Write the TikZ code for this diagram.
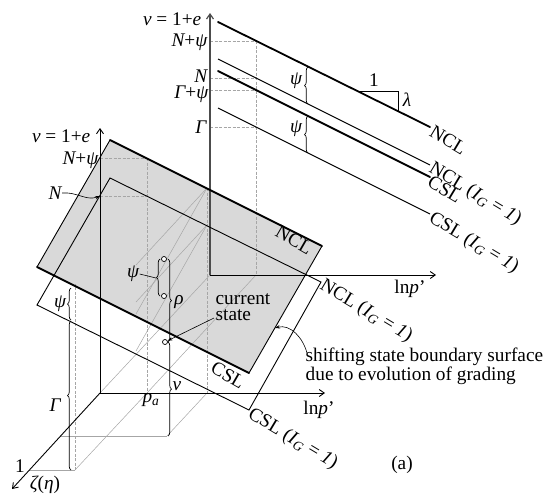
\documentclass[tikz,border=0pt]{standalone}
\usepackage{fontspec}
\setmainfont{Liberation Serif}
\usetikzlibrary{arrows.meta,decorations.pathreplacing}
\begin{document}
\begin{tikzpicture}[x=1pt,y=-1pt,
  thickln/.style={line width=1.8pt,line cap=round},
  thinln/.style={line width=0.9pt},
  axis/.style={line width=0.9pt,-{Straight Barb[length=5pt,width=7pt]}},
  guide/.style={gray!70,line width=0.5pt},
  guided/.style={gray!70,line width=0.5pt,dash pattern=on 3pt off 1.5pt},
  lbl/.style={font=\fontsize{19.3}{19}\selectfont,inner sep=0.5pt},
  brc/.style={decorate,decoration={brace,amplitude=3.5pt},line width=0.7pt},
  ptc/.style={circle,draw,fill=white,line width=0.7pt,inner sep=0pt,minimum size=5pt},
  arr/.style={line width=0.6pt,-{Stealth[length=5pt,width=3.5pt]}}
]
\useasboundingbox (0,0) rectangle (544,496);
% ---------- key points ----------
\coordinate (bo) at (210,275);   % back origin
\coordinate (fo) at (100,393);   % front origin
\coordinate (TL1) at (110,140); \coordinate (TR1) at (322,246);
\coordinate (BR1) at (249,373); \coordinate (BL1) at (37,267);
\coordinate (TL2) at (110,178); \coordinate (TR2) at (321,282);
\coordinate (BR2) at (249,410); \coordinate (BL2) at (37,305);
% shaded surface
\fill[gray!30] (TL1) -- (TR1) -- (BR1) -- (BL1) -- cycle;
% ---------- guide lines ----------
\draw[guided] (256,41) -- (256,275);
\foreach \yy in {41,78,90,127} \draw[guided] (210,\yy) -- (256,\yy);
\draw[guided] (147,158) -- (147,393);
\draw[guided] (100,158) -- (147,158);
\draw[guided] (100,196) -- (147,196);
\draw[guide] (fo) -- (bo);
\draw[guide] (75,470) -- (147,393) -- (256,275);
\draw[guide] (29,470) -- (75,470);
\draw[guided] (75,470) -- (75,284);
\draw[guided] (207,188) -- (207,393);
\draw[guide] (207,393) -- (167,436);
\draw[guide] (60,436) -- (167,436);
\draw[guide] (207,188) -- (136,265);
\draw[guide] (207,225) -- (136,302);
\draw[guide] (207,188) -- (136,314);
\draw[guide] (207,225) -- (136,351);
% ---------- back plane ----------
\draw[line width=1.2pt,gray!60!black,-{Straight Barb[length=5pt,width=7pt]}] (bo) -- (210,13) coordinate (bvt);
\draw[axis] (bo) -- (436,275) coordinate (bht);
\draw[thickln] (218,22) coordinate (bn1) -- (430,127) coordinate (bn2);
\draw[thinln] (218,59) coordinate (bni1) -- (430,165) coordinate (bni2);
\draw[thickln] (218,71) coordinate (bc1) -- (430,177) coordinate (bc2);
\draw[thinln] (218,108) coordinate (bci1) -- (430,214) coordinate (bci2);
% slope triangle
\draw[thinln] (357,91) -- (398,91) -- (398,112);
\node[lbl] (one) at (374,80) {1};
\node[lbl] (lam) at (407,100) {\itshape λ};
% psi braces back
\draw[brc] (308,104) -- (308,67);
\draw[brc] (308,153) -- (308,116);
\node[lbl] (bpsi1) at (296,81) {\itshape ψ};
\node[lbl] (bpsi2) at (296,129) {\itshape ψ};
% back labels
\node[lbl,anchor=east] (bv) at (202,19) {\itshape v\upshape\ = 1+\itshape e};
\node[lbl,anchor=east] (bNp) at (208,42) {\itshape N\upshape+\itshape ψ};
\node[lbl,anchor=east] (bN) at (208,76) {\itshape N};
\node[lbl,anchor=east] (bGp) at (209,94) {\itshape Γ\upshape+\itshape ψ};
\node[lbl,anchor=east] (bG) at (207,127) {\itshape Γ};
\node[lbl,anchor=west,rotate=-31] (lNCL) at (431,130) {NCL};
\node[lbl,anchor=west,rotate=-31] (lNCLi) at (430,167) {NCL (\textit{I}\textsubscript{\textit{G}} = \textit{1})};
\node[lbl,anchor=west,rotate=-31] (lCSL) at (429,180) {CSL};
\node[lbl,anchor=west,rotate=-31] (lCSLi) at (430,217) {CSL (\textit{I}\textsubscript{\textit{G}} = \textit{1})};
\node[lbl] (blnp) at (410,289) {ln\textit{p}'};
% ---------- front surfaces ----------
\draw[thinln] (TL2) -- (TR2) -- (BR2) -- (BL2) -- cycle;
\draw[thinln] (BL1) -- (TL1);
\draw[thinln] (TR1) -- (BR1);
\draw[thickln] (TL1) -- (TR1);
\draw[thickln] (BL1) -- (BR1);
% front axes
\draw[axis] (fo) -- (100,128) coordinate (fvt);
\draw[axis] (fo) -- (325,393) coordinate (fht);
\draw[axis] (fo) -- (12,489) coordinate (zt);
% front labels
\node[lbl,anchor=east] (fv) at (91,136) {\itshape v\upshape\ = 1+\itshape e};
\node[lbl,anchor=east] (fNp) at (99,160) {\itshape N\upshape+\itshape ψ};
\node[lbl] (fN) at (55,193) {\itshape N};
\coordinate (fNpt) at (100,196);
\draw[arr] (fN.east) to[out=5,in=200] (fNpt);
\node[lbl,rotate=-30] (sNCL) at (294,240) {NCL};
\node[lbl,rotate=-30] (sCSL) at (228,375) {CSL};
\node[lbl,anchor=west,rotate=-31] (sNCLi) at (321,284) {NCL (\textit{I}\textsubscript{\textit{G}} = \textit{1})};
\node[lbl,anchor=west,rotate=-31] (sCSLi) at (249,413) {CSL (\textit{I}\textsubscript{\textit{G}} = \textit{1})};
\node[lbl] (flnp) at (319,410) {ln\textit{p}'};
\node[lbl] (pa) at (151,400) {\itshape p\textsubscript{a}};
\node[lbl] (z1) at (20,466) {1};
\node[lbl] (zl) at (45,485) {\itshape ζ\upshape(\itshape η\upshape)};
% left braces
\draw[brc] (71,320) -- (71,288);
\draw[brc] (71,470) -- (71,321);
\node[lbl] (fpsi) at (60,304) {\itshape ψ};
\node[lbl] (fG) at (55,405) {\itshape Γ};
% state points
\node[ptc] (c1) at (164,259) {};
\node[ptc] (c2) at (164,296) {};
\node[ptc] (cs) at (165,342) {};
\coordinate (fl) at (167,436);
\draw[brc] (160,296) -- (160,259);
\node[lbl] (psic) at (133,274) {\itshape ψ};
\draw[line width=0.6pt] (psic.east) -- (156,278);
\draw[brc] (168,259) -- (168,342);
\draw[brc] (168,342) -- (168,436);
\node[lbl] (rho) at (179,302) {\itshape ρ};
\node[lbl] (nu) at (177,386) {\itshape ν};
\node[lbl,align=left] (cur) at (243,307) {current\\[-3pt]state};
\coordinate (curp) at (214,318);
\draw[arr] (curp) -- (cs);
\node[lbl,align=left,anchor=north west] (shift) at (305,347) {shifting state boundary surface\\due to evolution of grading};
\coordinate (sarr) at (275,328);
\coordinate (sst) at (307,353);
\draw[arr] (sst) to[out=105,in=15] (sarr);
\node[lbl] (a) at (402,465) {(a)};
\end{tikzpicture}
\end{document}
